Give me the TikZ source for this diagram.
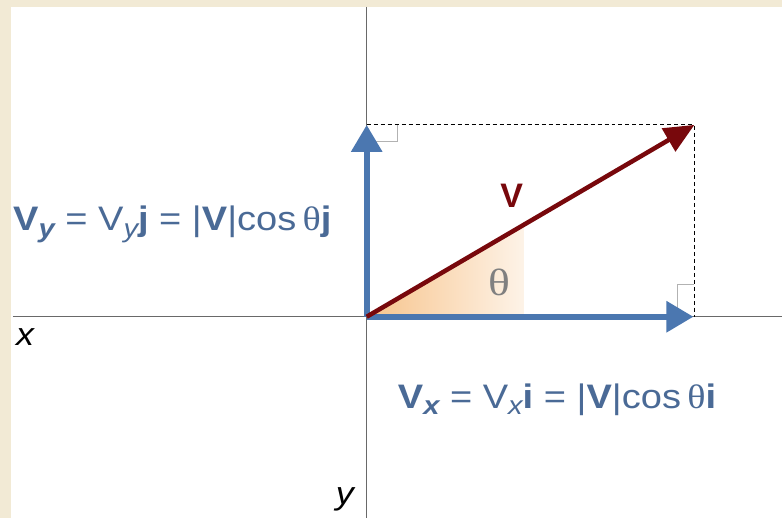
\documentclass[tikz,border=0pt]{standalone}
\usepackage{fontspec}
\setmainfont{Liberation Sans}
\newfontfamily\thetafont{Liberation Serif}
\usetikzlibrary{arrows.meta}

\definecolor{paper}{RGB}{242,234,213}
\definecolor{axisgray}{RGB}{105,105,105}
\definecolor{vecblue}{RGB}{75,119,176}
\definecolor{textblue}{RGB}{74,106,150}
\definecolor{vecred}{RGB}{120,8,12}
\definecolor{wedge}{RGB}{247,196,140}

\newcommand{\vsub}[1]{\raisebox{-0.35ex}{\fontsize{26}{28}\selectfont #1}}

\begin{document}
\begin{tikzpicture}[x=1pt, y=-1pt,
  axis/.style={axisgray, line width=1.3pt},
  compvec/.style={vecblue, line width=6pt, -{Triangle[length=27pt,width=30pt]}},
  mainvec/.style={vecred, line width=4.5pt, -{Triangle[length=30pt,width=26pt]}},
  guide/.style={black, line width=0.9pt, dash pattern=on 4pt off 3pt},
  rightmark/.style={gray!60, line width=1pt},
  formula/.style={textblue, anchor=base west, inner sep=0pt, xscale=1.12, font=\fontsize{34}{36}\selectfont},
  axislabel/.style={black, inner sep=0pt, xscale=1.12, font=\fontsize{32}{34}\selectfont\itshape}]
  \fill[paper] (0,0) rectangle (783,518);
  \fill[white] (11,7) rectangle (783,518);

  \coordinate (O) at (367,317);
  \coordinate (Vy) at (367,125);
  \coordinate (Vx) at (694,317);
  \coordinate (V) at (695,125);
  \coordinate (w1) at (525,317);
  \coordinate (w2) at (525,224.5);

  \shade[left color=wedge, right color=wedge!20] (O) -- (w1) -- (w2) -- cycle;

  \draw[axis] (13,317) -- (783,317);
  \draw[axis] (367,7) -- (367,518);

  \draw[rightmark] (367,142) -- (398,142) -- (398,125);
  \draw[rightmark] (678,317) -- (678,285) -- (695,285);

  \draw[guide] (Vy) -- (V) -- (695,317);

  \draw[compvec] (O) -- (Vy);
  \draw[compvec] (O) -- (Vx);
  \draw[mainvec] (O) -- (V);

  \node[vecred, font=\fontsize{34}{36}\selectfont\bfseries] (vlab) at (512,196) {V};
  \node[gray, xscale=1.2, font=\fontsize{38}{40}\selectfont\thetafont] (thlab) at (500,283) {θ};

  \node[formula] (vyeq) at (13,231)
    {{\bfseries V}\vsub{\bfseries\itshape y} = V\vsub{\itshape y}{\bfseries j} = |{\bfseries V}|cos\,{\thetafont θ}{\bfseries j}};
  \node[formula] (vxeq) at (398,409)
    {{\bfseries V}\vsub{\bfseries\itshape x} = V\vsub{\itshape x}{\bfseries i} = |{\bfseries V}|cos\,{\thetafont θ}{\bfseries i}};

  \node[axislabel] (xlab) at (25,337) {x};
  \node[axislabel] (ylab) at (345,500) {y};
\end{tikzpicture}
\end{document}
